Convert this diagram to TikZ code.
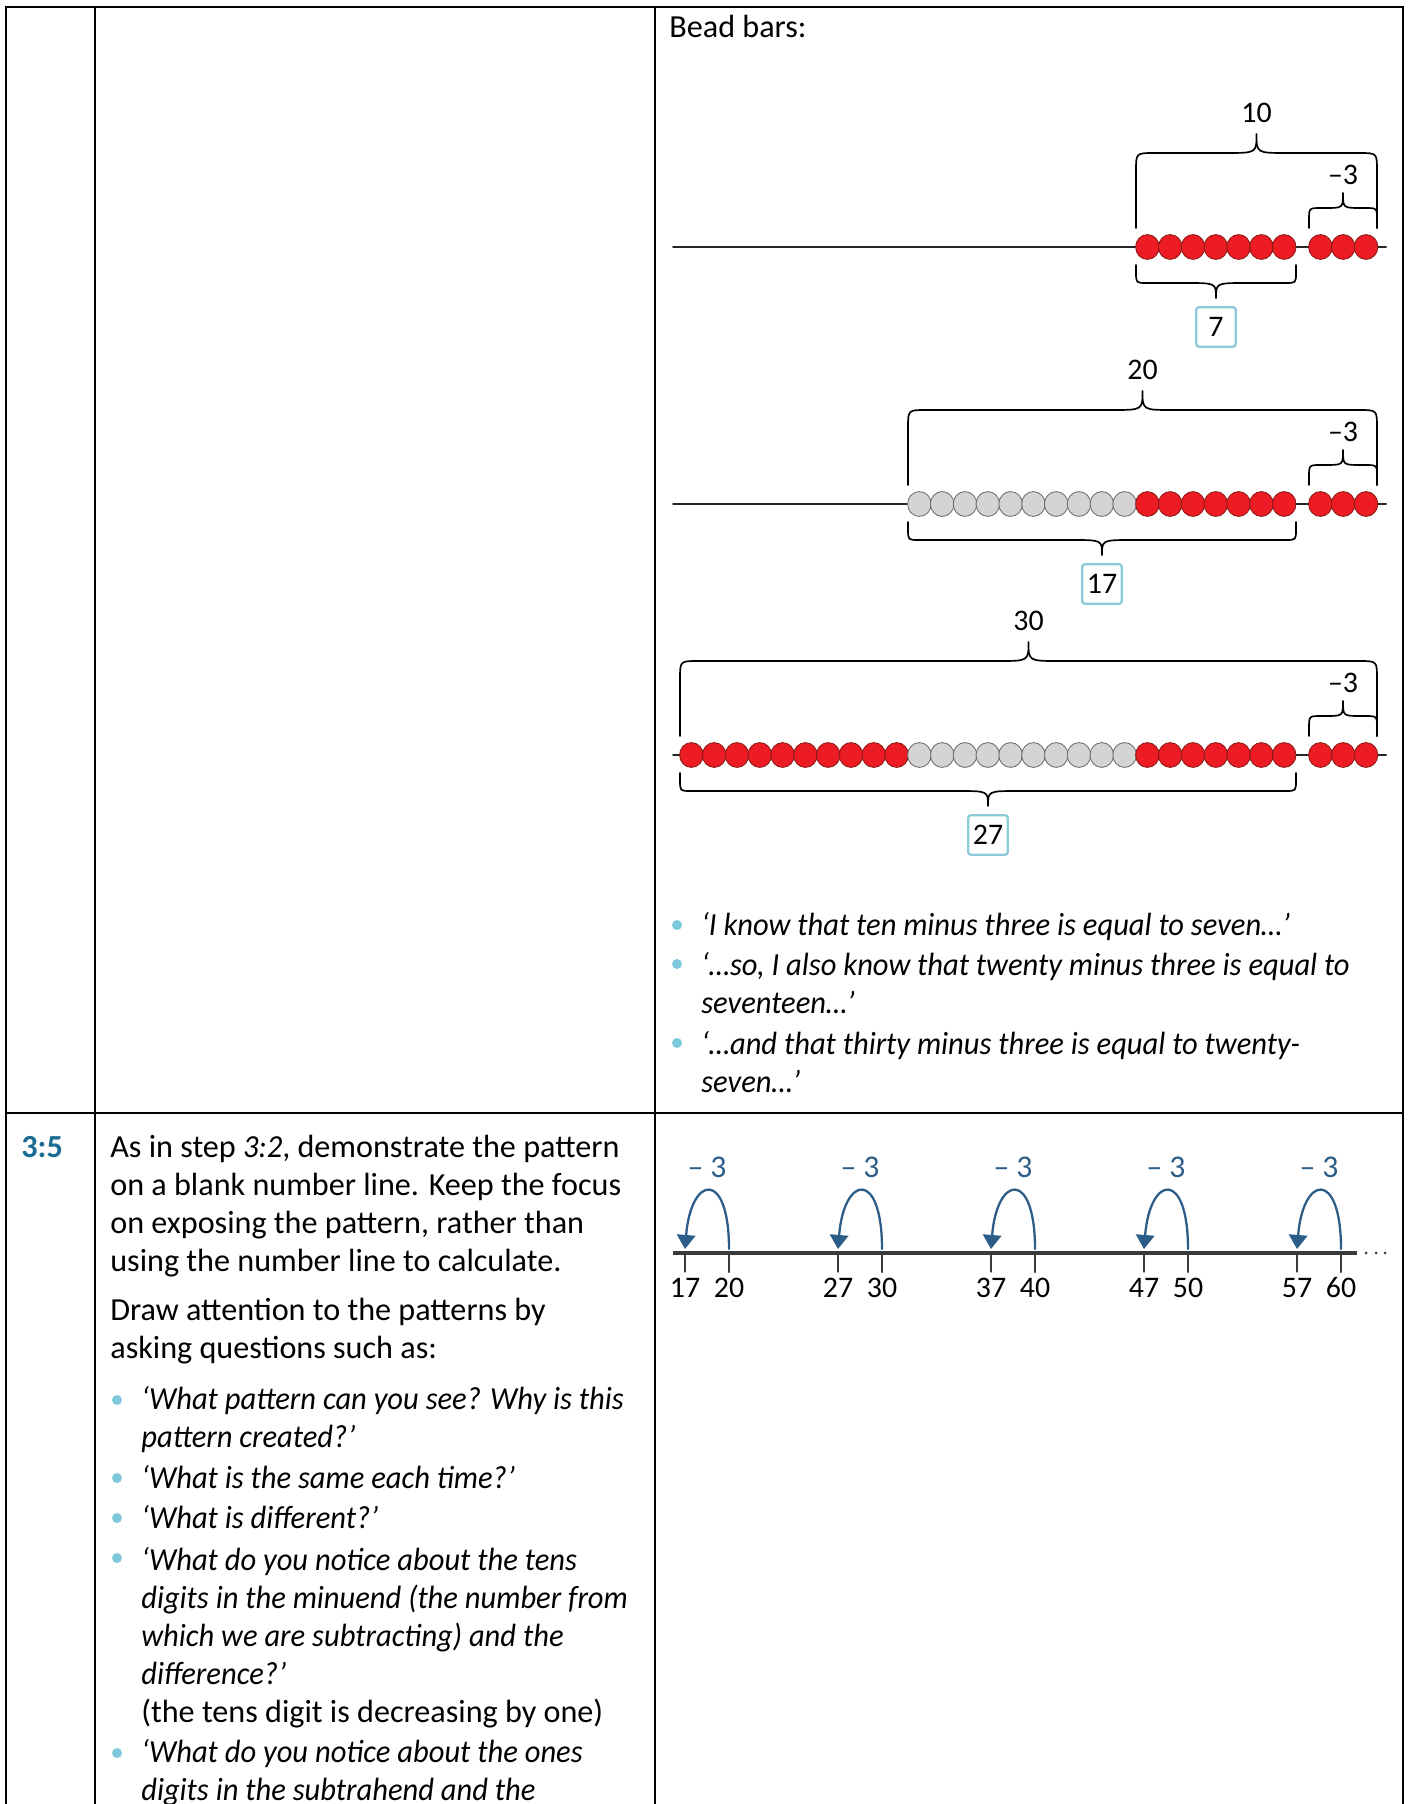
\documentclass[tikz,border=0pt]{standalone}
\usepackage{fontspec}
\setmainfont{Carlito}[ItalicFeatures={FakeStretch=0.95}]
\usetikzlibrary{arrows.meta}

\definecolor{beadred}{HTML}{ED1C24}
\definecolor{beadrim}{HTML}{8C1A16}
\definecolor{beadgrey}{HTML}{D4D4D4}
\definecolor{greyrim}{HTML}{6F6F6F}
\definecolor{jumpblue}{HTML}{2C5D88}
\definecolor{dotblue}{HTML}{7EC8DD}
\definecolor{stepblue}{HTML}{1B6C94}
\definecolor{boxblue}{HTML}{8CCAD7}
\definecolor{axisgrey}{HTML}{3A3A3A}

\newcommand\bodyfont{\fontsize{18.3}{21.6}\selectfont}
\newcommand\numfont{\fontsize{17}{20}\selectfont}

% curly bracket: left x, right x, arm end y, bar y, tip y
\newcommand\curly[5]{%
  \pgfmathsetmacro\bmid{((#1)+(#2))/2}%
  \pgfmathsetmacro\bcr{min(18,max(-18,((#4)-(#3))*0.6))}%
  \pgfmathsetmacro\bca{abs(\bcr)}%
  \pgfmathsetmacro\btw{min(30,(abs((#2)-(#1))/2-\bca)*0.8)}%
  \draw[brace] (#1,#3) -- (#1,{(#4)-(\bcr)}) .. controls (#1,#4) .. ({(#1)+\bca},#4)
    -- ({\bmid-\btw},#4) .. controls (\bmid,#4) .. (\bmid,#5)
    .. controls (\bmid,#4) .. ({\bmid+\btw},#4)
    -- ({(#2)-\bca},#4) .. controls (#2,#4) .. (#2,{(#4)-(\bcr)}) -- (#2,#3);}

\begin{document}
\begin{tikzpicture}[x=0.02cm, y=-0.02cm, line join=round, line cap=round,
  rule/.style={line width=1.5pt, line cap=rect, line join=miter},
  wire/.style={line width=1.1pt, black!85},
  redbead/.style={fill=beadred, draw=beadrim, line width=0.5pt},
  greybead/.style={fill=beadgrey, draw=greyrim, line width=0.5pt},
  brace/.style={line width=0.95pt},
  result/.style={draw=boxblue, fill=white, line width=1.3pt, rounded corners=1.5pt,
    minimum width=22.5pt, minimum height=22.5pt, inner sep=0pt, font=\numfont},
  numlab/.style={inner sep=0pt, font=\numfont},
  txt/.style={anchor=base west, align=left, inner sep=0pt, font=\bodyfont},
  quote/.style={txt, font=\bodyfont\itshape},
  bullet/.style={fill=dotblue},
  numline/.style={line width=2.2pt, axisgrey, line cap=butt},
  jump/.style={jumpblue, line width=1.3pt, -{Triangle[width=10.5pt,length=8pt]}},
  jumplab/.style={anchor=base, inner sep=0pt, text=jumpblue, font=\fontsize{18}{20}\selectfont}]
\useasboundingbox (0,0) rectangle (1410,1804);

% table rules
\draw[rule] (6,1820) -- (6,7) -- (1403,7) -- (1403,1820);
\draw[rule] (95,7) -- (95,1820) (655,7) -- (655,1820) (6,1113) -- (1403,1113);

% bead bars
\node[txt] (beadbars) at (669,38) {Bead bars:};
\foreach \r in {247,504,755}{
  \draw[wire] (673,\r) -- (1386,\r);
  \foreach \j in {0,1,2} \draw[redbead] (1320.4+22.8*\j,\r) ellipse (11.8 and 12.4);
}
\foreach \r/\a/\b/\c in {247/20/26/redbead, 504/10/19/greybead, 504/20/26/redbead,
    755/0/9/redbead, 755/10/19/greybead, 755/20/26/redbead}
  \foreach \i in {\a,...,\b} \draw[\c] (691.4+22.8*\i,\r) ellipse (11.8 and 12.4);

% brackets, totals and differences
\foreach \r/\s/\whole/\part in {247/1136/10/7, 504/908/20/17, 755/680/30/27}{
  \curly{\s}{1377}{\r-19}{\r-94}{\r-113}
  \curly{1309}{1377}{\r-19}{\r-39}{\r-54}
  \curly{\s}{1296}{\r+18}{\r+36}{\r+51}
  \node[numlab] (whole\whole) at ({(\s+1377)/2},\r-134) {\whole};
  \node[numlab] (take\whole) at (1343,\r-72) {–3};
  \node[result] (diff\part) at ({(\s+1296)/2},\r+80) {\part};
}

% multi-line texts sit on the baseline of their last line
\node[quote] (say1) at (701,935) {‘I know that ten minus three is equal to seven…’};
\node[quote] (say2) at (701,1013) {‘…so, I also know that twenty minus three is equal to\\seventeen…’};
\node[quote] (say3) at (701,1092) {‘…and that thirty minus three is equal to twenty-\\seven…’};
\foreach \y in {935,974,1053} \fill[bullet] (677,\y-10) circle (5);

% number line with jumps of -3
\draw[numline] (673,1253) -- (1357,1253);
\foreach \d in {1366,1376,1385} \fill[axisgrey] (\d,1253) circle (1.5);
\foreach \a/\b [count=\k from 0] in {17/20,27/30,37/40,47/50,57/60}{
  \draw[axisgrey, line width=0.6pt] (685+153*\k,1253) -- ++(0,19);
  \draw[axisgrey, line width=1.4pt] (729+153*\k,1253) -- ++(0,19);
  \node[numlab, anchor=base] (n\a) at (685+153*\k,1297) {\a};
  \node[numlab, anchor=base] (n\b) at (729+153*\k,1297) {\b};
  \coordinate (from\b) at (729+153*\k,1249);
  \coordinate (to\a) at (685+153*\k,1249);
  \draw[jump] (from\b) .. controls +(0,-80) and +(6,-74) .. (to\a);
  \node[jumplab] (minus\b) at (707+153*\k,1177) {– 3};
}

% step 3:5
\node[txt, font=\bodyfont\bfseries, text=stepblue] (step) at (21,1157) {3:5};
\node[txt] (demo) at (110,1271) {As in step \textit{3:2}, demonstrate the pattern\\on a blank number line. Keep the focus\\on exposing the pattern, rather than\\using the number line to calculate.};
\node[txt] (attn) at (110,1358) {Draw attention to the patterns by\\asking questions such as:};
\node[quote] (q1) at (141,1447) {‘What pattern can you see? Why is this\\pattern created?’};
\node[quote] (q2) at (141,1488) {‘What is the same each time?’};
\node[quote] (q3) at (141,1528) {‘What is different?’};
\node[quote] (q4) at (141,1722) {‘What do you notice about the tens\\digits in the minuend (the number from\\which we are subtracting) and the\\difference?’\\\upshape(the tens digit is decreasing by one)};
\node[quote] (q5) at (141,1800) {‘What do you notice about the ones\\digits in the subtrahend and the};
\foreach \y in {1410,1488,1528,1568,1763} \fill[bullet] (117,\y-10) circle (5);
\end{tikzpicture}
\end{document}
